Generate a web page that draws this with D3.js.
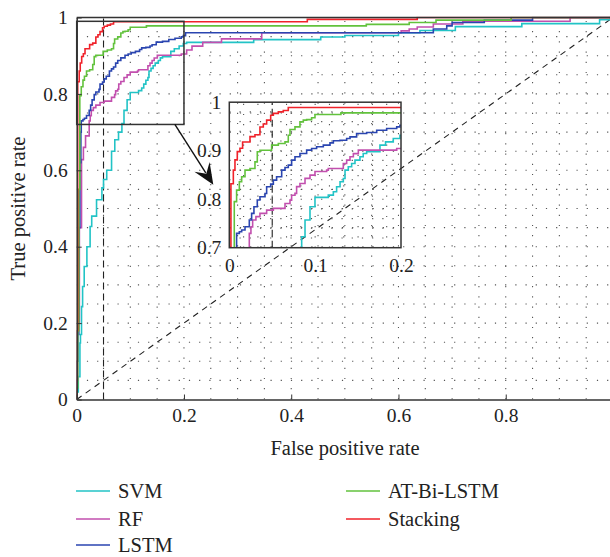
<!DOCTYPE html>
<html>
<head>
<meta charset="utf-8">
<script src="https://cdn.jsdelivr.net/npm/d3@7"></script>
<style>
  body { margin: 0; background: #fff; }
  svg text { font-family: "Liberation Serif", "DejaVu Serif", serif; fill: #222; }
</style>
</head>
<body>
<svg id="chart" width="610" height="557"></svg>
<script>
// ROC points [FPR, TPR]
const svmRoc = [[0,0],[0,0.02],[0.003,0.06],[0.006,0.148],[0.007,0.17],[0.009,0.243],[0.011,0.296],[0.014,0.348],
  [0.019,0.40],[0.025,0.453],[0.028,0.48],[0.037,0.523],[0.047,0.554],[0.05,0.576],[0.056,0.60],[0.065,0.65],
  [0.071,0.68],[0.078,0.70],[0.0843,0.7227],[0.0882,0.757],[0.094,0.7845],[0.0998,0.8037],[0.1153,0.8085],
  [0.1212,0.8153],[0.125,0.8256],[0.129,0.8359],[0.1328,0.8428],[0.1348,0.86],[0.1386,0.8668],[0.1425,0.8737],
  [0.1464,0.8806],[0.1522,0.8874],[0.156,0.8943],[0.16,0.8977],[0.1755,0.9114],[0.182,0.9183],[0.191,0.9252],
  [0.1988,0.932],[0.205,0.935],[0.33,0.942],[0.455,0.949],[0.5,0.953],[0.6,0.96],[0.64,0.966],[0.706,0.976],
  [0.83,0.984],[0.975,0.994],[0.995,1],[1,1]];
const rfRoc = [[0,0],[0,0.05],[0.002,0.2],[0.005,0.45],[0.009,0.628],[0.0125,0.66],[0.0165,0.69],[0.0233,0.7295],
  [0.0252,0.743],[0.0272,0.757],[0.031,0.764],[0.0357,0.7707],[0.0435,0.7775],[0.0513,0.781],[0.0649,0.791],
  [0.0707,0.798],[0.0726,0.808],[0.0765,0.812],[0.0784,0.826],[0.0823,0.8325],[0.0882,0.843],[0.094,0.8497],
  [0.0998,0.857],[0.1134,0.86],[0.1153,0.8634],[0.1328,0.8737],[0.1367,0.8806],[0.1406,0.8874],[0.1445,0.894],
  [0.1503,0.9011],[0.195,0.9045],[0.205,0.915],[0.215,0.925],[0.235,0.935],[0.27,0.944],[0.345,0.96],
  [0.605,0.965],[0.62,0.97],[0.635,0.975],[0.665,0.983],[0.72,0.99],[0.92,1],[1,1]];
const lstmRoc = [[0,0],[0,0.1],[0.002,0.17],[0.004,0.45],[0.006,0.62],[0.0078,0.7],[0.0085,0.7295],[0.0117,0.733],
  [0.0144,0.7364],[0.0183,0.7433],[0.0233,0.757],[0.026,0.7707],[0.0287,0.7844],[0.0326,0.7982],[0.0357,0.805],
  [0.0416,0.8119],[0.0435,0.8256],[0.0482,0.8311],[0.0513,0.8394],[0.0551,0.8462],[0.061,0.86],[0.0649,0.8654],
  [0.0687,0.8703],[0.0726,0.8806],[0.0765,0.8874],[0.0823,0.8943],[0.0901,0.9011],[0.0959,0.9046],[0.1017,0.908],
  [0.1095,0.9114],[0.1173,0.9162],[0.1212,0.9204],[0.1289,0.9217],[0.1367,0.9252],[0.1406,0.9286],[0.1483,0.9355],
  [0.16,0.9375],[0.1717,0.9423],[0.1833,0.9458],[0.195,0.9492],[0.1988,0.9526],[0.203,0.96],[0.665,0.97],
  [0.69,0.978],[0.7,0.987],[0.76,0.993],[0.85,1],[1,1]];
const atBiLstmRoc = [[0,0],[0,0.03],[0.002,0.18],[0.004,0.55],[0.0058,0.795],[0.0085,0.8188],[0.0117,0.836],
  [0.0144,0.8462],[0.0183,0.86],[0.0241,0.8634],[0.0299,0.877],[0.0326,0.8977],[0.0357,0.901],[0.0493,0.9114],
  [0.0571,0.9149],[0.0649,0.9183],[0.0687,0.932],[0.0707,0.9437],[0.0765,0.9492],[0.0823,0.9595],[0.0862,0.963],
  [0.0901,0.964],[0.0959,0.968],[0.0998,0.9746],[0.13,0.978],[0.54,0.982],[0.62,0.987],[0.67,0.993],[0.81,1],[1,1]];
const stackingRoc = [[0,0],[0,0.18],[0.0019,0.832],[0.0047,0.86],[0.0066,0.881],[0.0093,0.898],[0.0124,0.905],
  [0.0155,0.918],[0.0241,0.929],[0.0299,0.933],[0.0357,0.949],[0.0396,0.955],[0.0435,0.963],[0.0482,0.973],
  [0.0513,0.977],[0.0571,0.98],[0.0629,0.983],[0.0687,0.989],[0.43,0.995],[0.635,1],[1,1]];

const modelNames = ["SVM", "RF", "LSTM", "AT-Bi-LSTM", "Stacking"];
const modelColors = ["#22c3c6", "#c24fae", "#2a45b0", "#62c23c", "#f0222a"];
const rocCurves = [svmRoc, rfRoc, lstmRoc, atBiLstmRoc, stackingRoc];

const mainTicks = [0, 0.2, 0.4, 0.6, 0.8, 1];
const insetXTicks = [0, 0.1, 0.2];
const insetYTicks = [0.7, 0.8, 0.9, 1];
const fprMark = 0.05;                              // vertical dashed reference
const zoomFpr = [0, 0.2], zoomTpr = [0.72, 0.99];  // window shown in inset

const svg = d3.select("#chart");
const x = d3.scaleLinear().domain([0, 1]).range([76.7, 613]);
const y = d3.scaleLinear().domain([0, 1]).range([399.5, 17.5]);
const ix = d3.scaleLinear().domain([0, 0.2]).range([229.3, 401]);
const iy = d3.scaleLinear().domain([0.7, 1]).range([247.7, 102.2]);

const defs = svg.append("defs");
defs.append("clipPath").attr("id", "clipMain").append("rect")
  .attr("x", x(0)).attr("y", y(1) - 1).attr("width", x(1) - x(0)).attr("height", y(0) - y(1) + 1);
defs.append("clipPath").attr("id", "clipInset").append("rect")
  .attr("x", ix(0)).attr("y", iy(1)).attr("width", ix(0.2) - ix(0)).attr("height", iy(0.7) - iy(1));

// dotted grid
function grid(g, xs, ys, xv, yv) {
  g.selectAll(".gv").data(xv).join("line")
    .attr("x1", d => xs(d)).attr("x2", d => xs(d))
    .attr("y1", ys.range()[0]).attr("y2", ys.range()[1]);
  g.selectAll(".gh").data(yv).join("line").attr("class", "gh")
    .attr("x1", xs.range()[0]).attr("x2", xs.range()[1])
    .attr("y1", d => ys(d)).attr("y2", d => ys(d));
  g.selectAll("line").attr("stroke", "#555").attr("stroke-width", 1.1).attr("stroke-dasharray", "1.2,9");
}
const mainGrid = svg.append("g").attr("clip-path", "url(#clipMain)");
grid(mainGrid, x, y, d3.range(0.05, 1, 0.05), d3.range(0.05, 1, 0.05));

// reference lines
svg.append("line").attr("x1", x(0)).attr("y1", y(0)).attr("x2", x(1)).attr("y2", y(1))
  .attr("stroke", "#222").attr("stroke-width", 1.1).attr("stroke-dasharray", "6,5")
  .attr("clip-path", "url(#clipMain)");
svg.append("line").attr("x1", x(fprMark)).attr("x2", x(fprMark)).attr("y1", y(0)).attr("y2", y(1))
  .attr("stroke", "#222").attr("stroke-width", 1.1).attr("stroke-dasharray", "7,4");

const lineMain = d3.line().x(d => x(d[0])).y(d => y(d[1])).curve(d3.curveStepAfter);
svg.append("g").attr("clip-path", "url(#clipMain)")
  .selectAll("path").data(rocCurves).join("path")
  .attr("d", lineMain).attr("fill", "none")
  .attr("stroke", (d, i) => modelColors[i]).attr("stroke-width", 1.6);

// axes
const xAxis = d3.axisBottom(x).tickValues(mainTicks).tickFormat(d3.format("")).tickSizeInner(-5).tickSizeOuter(0).tickPadding(9);
const yAxis = d3.axisLeft(y).tickValues(mainTicks).tickFormat(d3.format("")).tickSizeInner(-5).tickSizeOuter(0).tickPadding(9);
function styleAxis(g) {
  g.select(".domain").attr("stroke", "#333").attr("stroke-width", 1.5);
  g.selectAll(".tick line").attr("stroke", "#333");
  g.selectAll("text").attr("font-size", 19.5).attr("font-family", "Liberation Serif").attr("fill", "#222");
}
svg.append("g").attr("transform", `translate(0,${y(0)})`).call(xAxis).call(styleAxis);
svg.append("g").attr("transform", `translate(${x(0)},0)`).call(yAxis).call(styleAxis);
svg.append("line").attr("x1", x(0)).attr("x2", x(1)).attr("y1", y(1)).attr("y2", y(1))
  .attr("stroke", "#333").attr("stroke-width", 1.5);

svg.append("text").attr("x", 345).attr("y", 455).attr("text-anchor", "middle")
  .attr("font-size", 20.5).text("False positive rate");
svg.append("text").attr("transform", `translate(25,${(y(0) + y(1)) / 2}) rotate(-90)`)
  .attr("text-anchor", "middle").attr("font-size", 20.5).text("True positive rate");

// zoom window box in main plot
svg.append("rect").attr("x", x(zoomFpr[0])).attr("y", y(zoomTpr[1]))
  .attr("width", x(zoomFpr[1]) - x(zoomFpr[0])).attr("height", y(zoomTpr[0]) - y(zoomTpr[1]))
  .attr("fill", "none").attr("stroke", "#333").attr("stroke-width", 1.5);

// inset
const insetGrid = svg.append("g");
grid(insetGrid, ix, iy, d3.range(1, 12).map(k => k * 0.2 / 12), d3.range(1, 15).map(k => 0.7 + k * 0.02));
svg.append("line").attr("x1", ix(fprMark)).attr("x2", ix(fprMark)).attr("y1", iy(0.7)).attr("y2", iy(1))
  .attr("stroke", "#222").attr("stroke-width", 1.1).attr("stroke-dasharray", "7,4");
const lineInset = d3.line().x(d => ix(d[0])).y(d => iy(d[1])).curve(d3.curveStepAfter);
svg.append("g").attr("clip-path", "url(#clipInset)")
  .selectAll("path").data(rocCurves).join("path")
  .attr("d", lineInset).attr("fill", "none")
  .attr("stroke", (d, i) => modelColors[i]).attr("stroke-width", 1.6);
svg.append("rect").attr("x", ix(0)).attr("y", iy(1)).attr("width", ix(0.2) - ix(0)).attr("height", iy(0.7) - iy(1))
  .attr("fill", "none").attr("stroke", "#333").attr("stroke-width", 1.5);
svg.append("g").attr("transform", `translate(0,${iy(0.7)})`)
  .call(d3.axisBottom(ix).tickValues(insetXTicks).tickFormat(d3.format("")).tickSize(0).tickPadding(10))
  .call(styleAxis).select(".domain").remove();
svg.append("g").attr("transform", `translate(${ix(0)},0)`)
  .call(d3.axisLeft(iy).tickValues(insetYTicks).tickFormat(d => d === 1 ? "1" : d3.format(".1f")(d)).tickSize(0).tickPadding(8))
  .call(styleAxis).select(".domain").remove();

// arrow from zoom box to inset
const a0 = [x(0.183), y(zoomTpr[0])], tip = [ix(0) - 16, iy(0.83)];
const len = Math.hypot(tip[0] - a0[0], tip[1] - a0[1]);
const u = [(tip[0] - a0[0]) / len, (tip[1] - a0[1]) / len], n = [-u[1], u[0]];
svg.append("line").attr("x1", a0[0]).attr("y1", a0[1])
  .attr("x2", tip[0] - 14 * u[0]).attr("y2", tip[1] - 14 * u[1])
  .attr("stroke", "#111").attr("stroke-width", 1.4);
const hp = (b, s) => [tip[0] - b * u[0] + s * n[0], tip[1] - b * u[1] + s * n[1]];
svg.append("path").attr("d", "M" + [tip, hp(21, 9), hp(13, 0), hp(21, -9)].join("L") + "Z").attr("fill", "#111");

// legend
const legendPos = [[76, 491], [76, 519], [76, 545], [346, 491], [346, 519]];
const leg = svg.append("g").selectAll("g").data(modelNames).join("g")
  .attr("transform", (d, i) => `translate(${legendPos[i][0]},${legendPos[i][1]})`);
leg.append("line").attr("x1", 0).attr("x2", 34).attr("stroke", (d, i) => modelColors[i]).attr("stroke-width", 1.6);
leg.append("text").attr("x", 42).attr("dy", "0.35em").attr("font-size", 20.5).text(d => d);
</script>
</body>
</html>
